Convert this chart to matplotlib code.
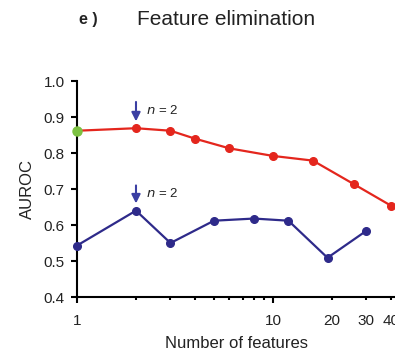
import matplotlib
matplotlib.use("Agg")
import matplotlib.pyplot as plt
from matplotlib.ticker import FixedLocator, FixedFormatter

plt.rcParams['font.family'] = ['Liberation Sans', 'DejaVu Sans']

# Data
red_x = [1, 2, 3, 4, 6, 10, 16, 26, 40]
red_y = [0.862, 0.869, 0.862, 0.840, 0.813, 0.792, 0.779, 0.713, 0.654]
blue_x = [1, 2, 3, 5, 8, 12, 19, 30]
blue_y = [0.543, 0.640, 0.550, 0.612, 0.618, 0.612, 0.509, 0.584]
green_x = [1]
green_y = [0.862]
yticks = [0.4, 0.5, 0.6, 0.7, 0.8, 0.9, 1.0]
major_x = [1, 10]
minor_x = [2, 3, 4, 5, 6, 7, 8, 9, 20, 30, 40]
minor_labels = ['', '', '', '', '', '', '', '', '20', '30', '40']

RED = '#e4261d'
BLUE = '#2e2a8a'
ARROW = '#3b3fa3'
GREEN = '#7cc242'

fig = plt.figure(figsize=(3.95, 3.54), dpi=100)
ax = fig.add_axes([0.195, 0.161, 0.805, 0.61])

ax.plot(red_x, red_y, color=RED, lw=1.6, marker='o', ms=5.5, clip_on=False, zorder=3)
ax.plot(blue_x, blue_y, color=BLUE, lw=1.6, marker='o', ms=5.5, clip_on=False, zorder=3)
ax.plot(green_x, green_y, color=GREEN, marker='o', ms=6.5, ls='none', clip_on=False, zorder=4)

ax.set_xscale('log')
ax.set_xlim(1, 42)
ax.set_ylim(0.4, 1.0)

ax.xaxis.set_major_locator(FixedLocator(major_x))
ax.xaxis.set_major_formatter(FixedFormatter([str(v) for v in major_x]))
ax.xaxis.set_minor_locator(FixedLocator(minor_x))
ax.xaxis.set_minor_formatter(FixedFormatter(minor_labels))
ax.set_yticks(yticks)
ax.set_yticklabels([f'{v:.1f}' for v in yticks])

for s in ['top', 'right']:
    ax.spines[s].set_visible(False)
for s in ['left', 'bottom']:
    ax.spines[s].set_linewidth(1.5)
    ax.spines[s].set_color('black')

ax.tick_params(axis='both', which='major', length=4, width=1.5, labelsize=11, color='black', labelcolor='#222222')
ax.tick_params(axis='x', which='major', pad=8)
ax.tick_params(axis='x', which='minor', length=2.5, width=1.5, labelsize=11, pad=9.5, labelcolor='#222222')
ax.tick_params(axis='y', which='major', pad=5)

ax.set_ylabel('AUROC', fontsize=12, color='#222222', labelpad=6)
ax.set_xlabel('Number of features', fontsize=12, color='#222222', labelpad=6)

# Arrows
ax.annotate('', xy=(2, 0.888), xytext=(2, 0.942),
            arrowprops=dict(arrowstyle='-|>', color=ARROW, lw=1.5, mutation_scale=13,
                            shrinkA=0, shrinkB=0))
ax.text(2.25, 0.917, '$n$ = 2', fontsize=9.5, color='#222222', va='center', ha='left')
ax.annotate('', xy=(2, 0.660), xytext=(2, 0.710),
            arrowprops=dict(arrowstyle='-|>', color=ARROW, lw=1.5, mutation_scale=13,
                            shrinkA=0, shrinkB=0))
ax.text(2.25, 0.688, '$n$ = 2', fontsize=9.5, color='#222222', va='center', ha='left')

fig.text(0.199, 0.945, 'e )', fontsize=11.5, fontweight='bold', color='#222222', va='center', ha='left')
fig.text(0.572, 0.945, 'Feature elimination', fontsize=15, color='#222222', va='center', ha='center')

fig.savefig('out.png', dpi=100)
